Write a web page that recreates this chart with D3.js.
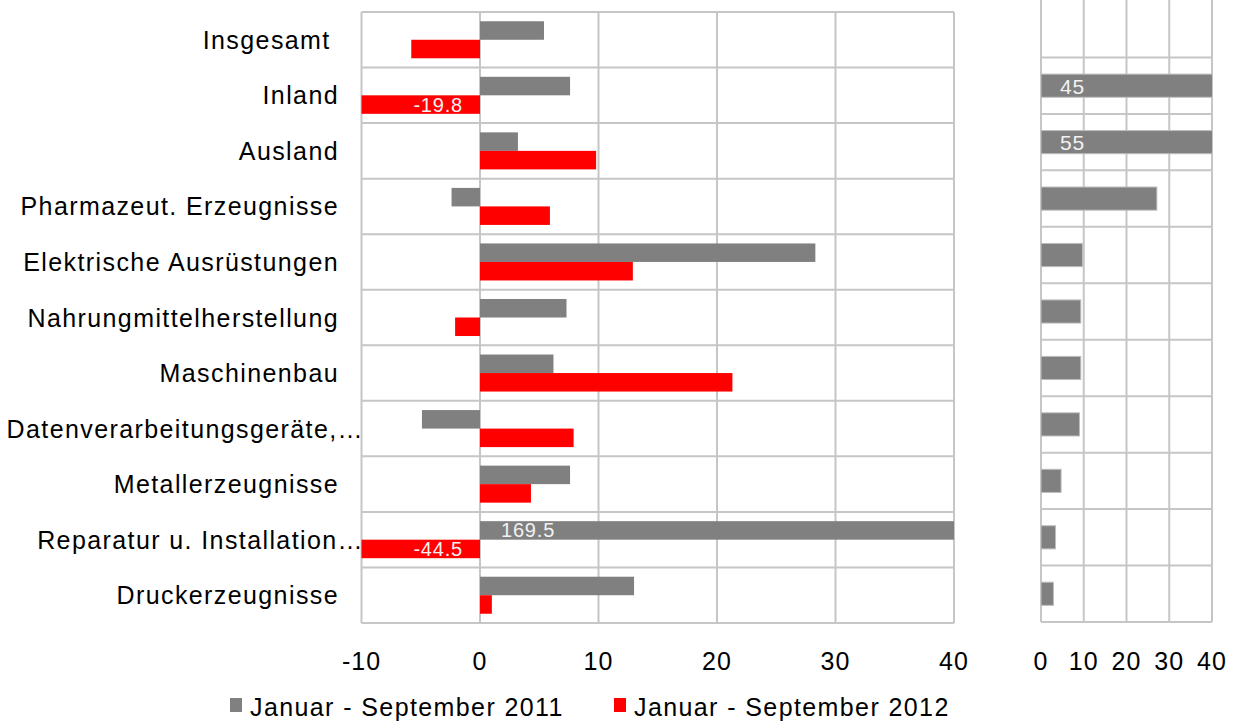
<!DOCTYPE html>
<html>
<head>
<meta charset="utf-8">
<script src="https://cdn.jsdelivr.net/npm/d3@7.9.0/dist/d3.min.js"></script>
<style>
  body { margin: 0; background: #fff; }
  svg text { font-family: "Liberation Sans", Arial, sans-serif; }
</style>
</head>
<body>
<svg id="chart" width="1239" height="722"></svg>
<script>
// categories (top to bottom)
const categories = [
  'Insgesamt ',
  'Inland',
  'Ausland',
  'Pharmazeut. Erzeugnisse',
  'Elektrische Ausrüstungen',
  'Nahrungmittelherstellung',
  'Maschinenbau',
  'Datenverarbeitungsgeräte,…',
  'Metallerzeugnisse',
  'Reparatur u. Installation…',
  'Druckerzeugnisse'
];

// change in % (left panel)
const values2011 = [5.4, 7.6, 3.2, -2.4, 28.3, 7.3, 6.2, -4.9, 7.6, 169.5, 13.0];
const values2012 = [-5.8, -19.8, 9.8, 5.9, 12.9, -2.1, 21.3, 7.9, 4.3, -44.5, 1.0];

// share (right panel)
const shares = [null, 45, 55, 27.1, 9.7, 9.3, 9.3, 9.0, 4.7, 3.4, 2.9];

const seriesNames = ['Januar - September 2011', 'Januar - September 2012'];
const seriesColors = ['#808080', '#ff0000'];

const leftTicks = [-10, 0, 10, 20, 30, 40];
const rightTicks = [0, 10, 20, 30, 40];

const svg = d3.select('#chart');
const gridColor = '#c6c6c6';
const fontSize = 25;
const spacing = 1.4;

// ---------- left panel ----------
const x = d3.scaleLinear().domain([-10, 40]).range([361.5, 954]);
const y = d3.scaleBand().domain(categories).range([12, 623]).padding(0);
const ySeries = d3.scaleBand().domain([0, 1]).range([0, y.bandwidth()])
  .paddingInner(0).paddingOuter(0.5);

svg.append('clipPath').attr('id', 'clipLeft')
  .append('rect').attr('x', x(-10)).attr('y', 12)
  .attr('width', x(40) - x(-10)).attr('height', 611);

const left = svg.append('g');

// grid
left.selectAll('line.v').data(leftTicks).join('line')
  .attr('x1', d => x(d)).attr('x2', d => x(d))
  .attr('y1', 12).attr('y2', 623)
  .attr('stroke', gridColor).attr('stroke-width', 2);
left.selectAll('line.h').data(d3.range(categories.length + 1)).join('line')
  .attr('x1', x(-10)).attr('x2', x(40))
  .attr('y1', i => 12 + i * y.step()).attr('y2', i => 12 + i * y.step())
  .attr('stroke', gridColor).attr('stroke-width', 2);

const bars = left.append('g').attr('clip-path', 'url(#clipLeft)');
[values2011, values2012].forEach((vals, s) => {
  bars.selectAll('rect.s' + s).data(vals).join('rect')
    .attr('class', 's' + s)
    .attr('x', d => x(Math.min(0, d)))
    .attr('width', d => Math.abs(x(d) - x(0)))
    .attr('y', (d, i) => y(categories[i]) + ySeries(s))
    .attr('height', ySeries.bandwidth())
    .attr('fill', seriesColors[s]);
});

// labels for clipped bars
const clipped = [];
[values2011, values2012].forEach((vals, s) => {
  vals.forEach((v, i) => {
    if (v > 40 || v < -10) clipped.push({ v, s, i });
  });
});
left.selectAll('text.lab').data(clipped).join('text')
  .attr('x', d => d.v > 0 ? x(0) + 21 : x(0) - 17)
  .attr('y', d => y(categories[d.i]) + ySeries(d.s) + ySeries.bandwidth() / 2 + 7)
  .attr('text-anchor', d => d.v > 0 ? 'start' : 'end')
  .attr('fill', '#f2f2f2')
  .attr('font-size', 20)
  .attr('letter-spacing', 0.8)
  .text(d => d.v.toFixed(1));

// category labels
left.selectAll('text.cat').data(categories).join('text')
  .attr('x', d => d.endsWith('…') ? 364 : 339)
  .attr('y', d => y(d) + y.bandwidth() / 2 + 9)
  .attr('text-anchor', 'end')
  .attr('font-size', fontSize)
  .attr('letter-spacing', spacing)
  .style('white-space', 'pre')
  .text(d => d);

// x tick labels
left.selectAll('text.tick').data(leftTicks).join('text')
  .attr('x', d => x(d))
  .attr('y', 670)
  .attr('text-anchor', 'middle')
  .attr('font-size', fontSize)
  .attr('letter-spacing', 1)
  .text(d => d);

// ---------- right panel ----------
const xr = d3.scaleLinear().domain([0, 40]).range([1041, 1212]);
const yr = d3.scaleBand().domain(categories).range([1, 622]).padding(0);
const barH = yr.bandwidth() * 0.41;

svg.append('clipPath').attr('id', 'clipRight')
  .append('rect').attr('x', xr(0)).attr('y', 1)
  .attr('width', xr(40) - xr(0)).attr('height', 621);

const right = svg.append('g');
right.selectAll('line.v').data(rightTicks).join('line')
  .attr('x1', d => xr(d)).attr('x2', d => xr(d))
  .attr('y1', 0).attr('y2', 622)
  .attr('stroke', gridColor).attr('stroke-width', 2);
right.selectAll('line.h').data(d3.range(1, categories.length + 1)).join('line')
  .attr('x1', xr(0)).attr('x2', xr(40))
  .attr('y1', i => 1 + i * yr.step()).attr('y2', i => 1 + i * yr.step())
  .attr('stroke', gridColor).attr('stroke-width', 2);

const shareData = shares.map((v, i) => ({ v, i })).filter(d => d.v != null);
right.append('g').attr('clip-path', 'url(#clipRight)')
  .selectAll('rect').data(shareData).join('rect')
  .attr('x', xr(0))
  .attr('width', d => xr(d.v) - xr(0))
  .attr('y', d => yr(categories[d.i]) + (yr.bandwidth() - barH) / 2)
  .attr('height', barH)
  .attr('fill', seriesColors[0])
  .attr('stroke', '#bdbdbd').attr('stroke-width', 1);

right.selectAll('text.lab').data(shareData.filter(d => d.v > 40)).join('text')
  .attr('x', xr(0) + 19)
  .attr('y', d => yr(categories[d.i]) + yr.bandwidth() / 2 + 8)
  .attr('fill', '#f2f2f2')
  .attr('font-size', 21)
  .attr('letter-spacing', 0.8)
  .text(d => d.v);

right.selectAll('text.tick').data(rightTicks).join('text')
  .attr('x', d => xr(d))
  .attr('y', 670)
  .attr('text-anchor', 'middle')
  .attr('font-size', fontSize)
  .attr('letter-spacing', 1)
  .text(d => d);

// ---------- legend ----------
const legendX = [230, 614];
const legend = svg.append('g');
seriesNames.forEach((name, s) => {
  legend.append('rect')
    .attr('x', legendX[s]).attr('y', 698)
    .attr('width', 12).attr('height', 14)
    .attr('fill', seriesColors[s]);
  legend.append('text')
    .attr('x', legendX[s] + 20).attr('y', 716)
    .attr('font-size', fontSize)
    .attr('letter-spacing', spacing)
    .text(name);
});
</script>
</body>
</html>
